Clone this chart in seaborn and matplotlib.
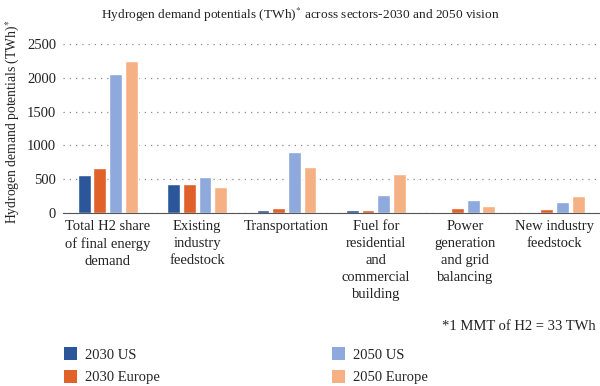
import numpy as np
import pandas as pd
import matplotlib
matplotlib.use("Agg")
import matplotlib.pyplot as plt
import seaborn as sns
from matplotlib.patches import Patch

# data (TWh)
sectors = ["Total H2 share\nof final energy\ndemand", "Existing\nindustry\nfeedstock",
           "Transportation", "Fuel for\nresidential\nand\ncommercial\nbuilding",
           "Power\ngeneration\nand grid\nbalancing", "New industry\nfeedstock"]
series = ["2030 US", "2030 Europe", "2050 US", "2050 Europe"]
us_2030 = [560, 430, 40, 50, 15, 20]
europe_2030 = [670, 435, 75, 40, 70, 65]
us_2050 = [2050, 540, 900, 270, 200, 170]
europe_2050 = [2250, 390, 680, 580, 110, 250]
colors = ["#2B579A", "#E0622A", "#8EA9DB", "#F5B184"]

rows = []
for name, vals in zip(series, [us_2030, europe_2030, us_2050, europe_2050]):
    for s, v in zip(sectors, vals):
        rows.append({"Sector": s, "Series": name, "Value": v})
df = pd.DataFrame(rows)

sns.set_style("white")
plt.rcParams["font.family"] = ["Liberation Serif", "DejaVu Serif"]
plt.rcParams["mathtext.fontset"] = "stix"

fig = plt.figure(figsize=(6, 3.86), dpi=100)
ax = fig.add_axes([0.105, 0.448, 0.894, 0.438])

sns.barplot(data=df, x="Sector", y="Value", hue="Series", order=sectors,
            hue_order=series, palette=colors, width=0.7, gap=0.18,
            saturation=1, legend=False, ax=ax)

ax.set_ylim(0, 2500)
ax.set_xlim(-0.5, 5.5)
ax.set_yticks([0, 500, 1000, 1500, 2000, 2500])
ax.yaxis.grid(True, linestyle=(0, (1, 4)), color="#888888", linewidth=0.9)
ax.set_axisbelow(True)
for side in ["left", "right", "top"]:
    ax.spines[side].set_visible(False)
ax.spines["bottom"].set_color("#555555")
ax.tick_params(axis="both", length=0, labelsize=10.5, colors="#222222")
ax.tick_params(axis="x", pad=5)
ax.tick_params(axis="y", pad=5)
ax.set_xlabel("")
ax.set_ylabel("")
for lab in ax.get_xticklabels():
    lab.set_linespacing(1.4)

# y label placed by hand so it stays inside the figure
fig.text(0.022, 0.685, "Hydrogen demand potentials (TWh)$^{*}$", rotation=90,
         ha="center", va="center", fontsize=9.8, color="#222222")
fig.text(0.5, 0.962, "Hydrogen demand potentials (TWh)$^{*}$ across sectors-2030 and 2050 vision",
         ha="center", va="center", fontsize=9.6, color="#222222")
fig.text(0.992, 0.155, "*1 MMT of H2 = 33 TWh", ha="right", va="center",
         fontsize=10.5, color="#222222")

handles = [Patch(facecolor=c, edgecolor="none") for c in colors]
fig.legend(handles, series, loc="lower left", bbox_to_anchor=(0.085, -0.03), ncol=2,
           frameon=False, fontsize=10.5, handlelength=0.85, handleheight=1.0,
           handletextpad=0.6, columnspacing=11.8, labelspacing=0.55)

fig.savefig("out.png", dpi=100)
